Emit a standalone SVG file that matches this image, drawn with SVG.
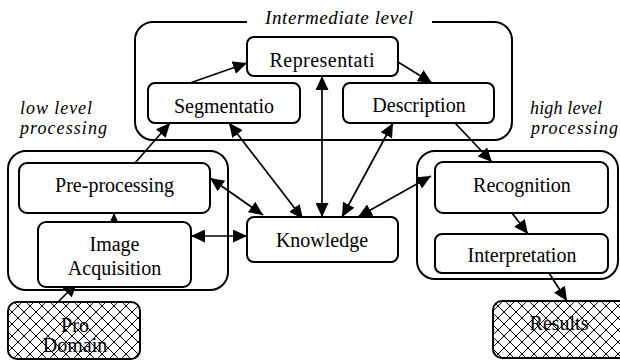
<svg xmlns="http://www.w3.org/2000/svg" width="620" height="360" viewBox="0 0 620 360">
<style>
.box{fill:#fff;stroke:#000;stroke-width:2}
.cont{fill:none;stroke:#000;stroke-width:2}
.hatch{fill:url(#hatch);stroke:#000;stroke-width:2}
.lbl{font-family:"Liberation Serif","Times New Roman",serif;font-size:20px;fill:#000;text-anchor:middle}
.ital{font-family:"Liberation Serif","Times New Roman",serif;font-size:18px;font-style:italic;fill:#000}
.arr{stroke:#000;stroke-width:1.7;fill:none;marker-end:url(#ah)}
.dbl{stroke:#000;stroke-width:1.7;fill:none;marker-end:url(#ah);marker-start:url(#ah)}
</style>
<defs>
<marker id="ah" viewBox="0 0 14 13" refX="14" refY="6.5" markerWidth="14" markerHeight="13" markerUnits="userSpaceOnUse" orient="auto-start-reverse">
<path d="M0,0 L14,6.5 L0,13 z" fill="#000"/>
</marker>
<pattern id="hatch" width="12" height="12" patternUnits="userSpaceOnUse">
<rect width="12" height="12" fill="#fff"/>
<path d="M0,0 L12,12 M12,0 L0,12" stroke="#000" stroke-width="1"/>
</pattern>
</defs>
<rect width="620" height="360" fill="#fff"/>

<g id="containers">
<path id="intermediate-container" class="cont" d="M247,22 H153 A18,18 0 0 0 135,40 V122 A18,18 0 0 0 153,140 H494 A18,18 0 0 0 512,122 V40 A18,18 0 0 0 494,22 H432"/>
<rect id="low-container" class="cont" x="8" y="151" width="220" height="139" rx="18"/>
<rect id="high-container" class="cont" x="417" y="151" width="201" height="128" rx="18"/>
</g>

<g id="labels">
<text class="ital" x="265" y="24" style="font-size:19px" textLength="148" lengthAdjust="spacing">Intermediate level</text>
<text class="ital" x="20" y="114" textLength="72" lengthAdjust="spacing">low level</text>
<text class="ital" x="20" y="134" textLength="87" lengthAdjust="spacing">processing</text>
<text class="ital" x="530" y="114" textLength="72" lengthAdjust="spacing">high level</text>
<text class="ital" x="531" y="134" textLength="87" lengthAdjust="spacing">processing</text>
</g>

<g id="connectors">
<line class="arr" x1="58" y1="302" x2="77" y2="283"/>
<line class="arr" x1="114" y1="224" x2="114" y2="213"/>
<line class="arr" x1="135" y1="163" x2="170" y2="123"/>
<line class="arr" x1="190" y1="83" x2="247" y2="63"/>
<line class="arr" x1="398" y1="62" x2="432" y2="83"/>
<line class="arr" x1="455" y1="123" x2="492" y2="162"/>
<line class="arr" x1="512" y1="213" x2="528" y2="234"/>
<line class="arr" x1="549" y1="273" x2="567" y2="301"/>
<line class="dbl" x1="210" y1="178" x2="263" y2="215"/>
<line class="dbl" x1="191" y1="236" x2="247" y2="236"/>
<line class="dbl" x1="229" y1="123" x2="303" y2="219"/>
<line class="dbl" x1="322" y1="76" x2="322" y2="217"/>
<line class="dbl" x1="393" y1="123" x2="342" y2="217"/>
<line class="dbl" x1="431" y1="176" x2="358" y2="217"/>
</g>

<g id="representation">
<rect class="box" x="247" y="37" width="151" height="39" rx="7"/>
<text class="lbl" x="322" y="67" textLength="105" lengthAdjust="spacing">Representati</text>
</g>
<g id="segmentation">
<rect class="box" x="148" y="83" width="152" height="40" rx="7"/>
<text class="lbl" x="224" y="113">Segmentatio</text>
</g>
<g id="description">
<rect class="box" x="343" y="83" width="151" height="40" rx="7"/>
<text class="lbl" x="419" y="112">Description</text>
</g>
<g id="preprocessing">
<rect class="box" x="19" y="163" width="191" height="50" rx="8"/>
<text class="lbl" x="114.5" y="192">Pre-processing</text>
</g>
<g id="image-acquisition">
<rect class="box" x="38" y="222" width="153" height="65" rx="8"/>
<text class="lbl" x="114.5" y="251">Image</text>
<text class="lbl" x="114.5" y="275">Acquisition</text>
</g>
<g id="knowledge">
<rect class="box" x="247" y="217" width="151" height="45" rx="7"/>
<text class="lbl" x="322" y="247">Knowledge</text>
</g>
<g id="recognition">
<rect class="box" x="435" y="162" width="173" height="51" rx="8"/>
<text class="lbl" x="522" y="192">Recognition</text>
</g>
<g id="interpretation">
<rect class="box" x="435" y="234" width="173" height="39" rx="7"/>
<text class="lbl" x="522" y="262">Interpretation</text>
</g>
<g id="pro-domain">
<rect class="hatch" x="8" y="302" width="132" height="57" rx="9"/>
<text class="lbl" x="75" y="332">Pro</text>
<text class="lbl" x="75" y="352">Domain</text>
</g>
<g id="results">
<rect class="hatch" x="493" y="301" width="140" height="57" rx="9"/>
<text class="lbl" x="559" y="330">Results</text>
</g>
</svg>
